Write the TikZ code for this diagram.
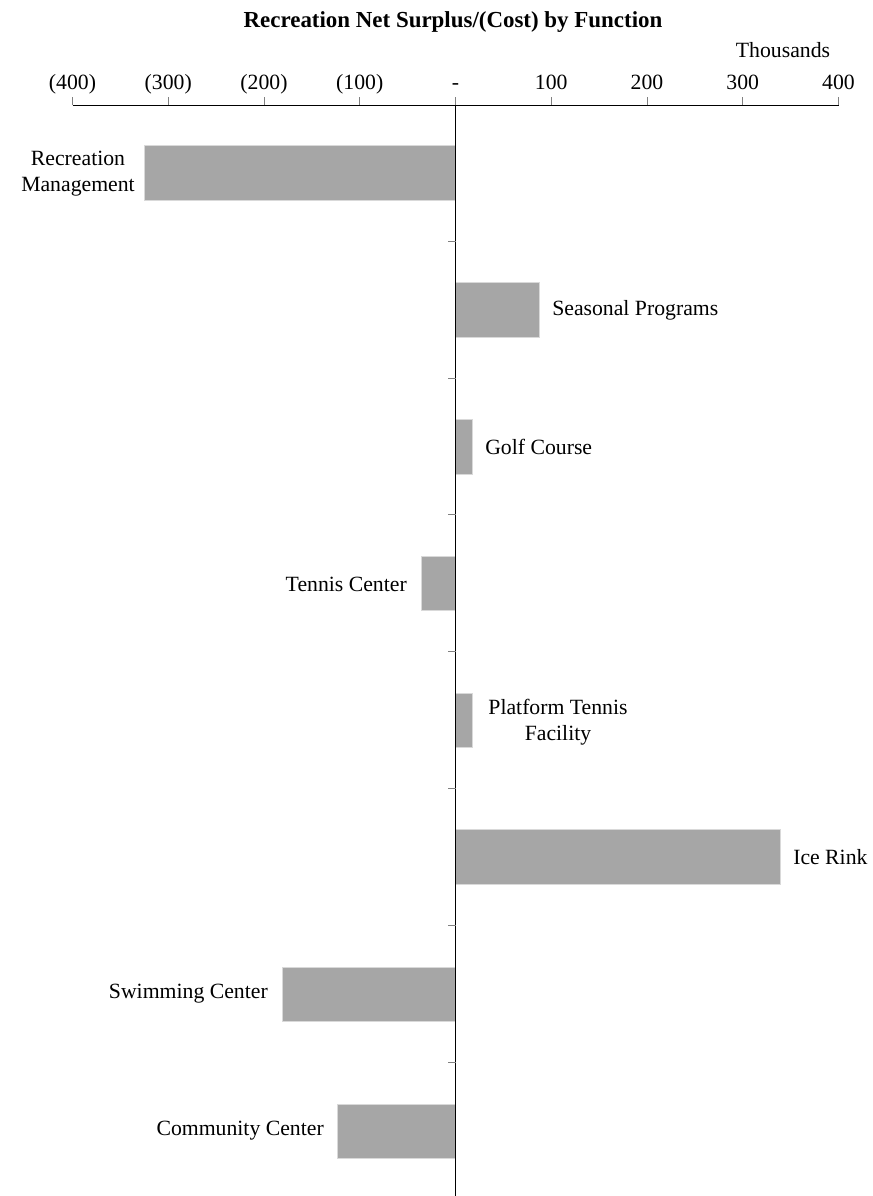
\documentclass[tikz,border=0pt]{standalone}
\usepackage{fontspec}
\setmainfont{Liberation Serif}
\usepackage{xcolor}

\begin{document}
\begin{tikzpicture}[x=0.75pt,y=0.75pt,yscale=-1,xscale=1,
  barfill/.style={fill={rgb, 255:red, 166; green, 166; blue, 166 },draw={rgb, 255:red, 217; green, 217; blue, 217 },line width=0.4pt},
  ticklbl/.style={inner sep=0.75pt,font=\fontsize{16.3}{19.5}\selectfont},
  axlbl/.style={ticklbl,anchor=base},
  smalltick/.style={draw={rgb, 255:red, 128; green, 128; blue, 128 },line width=0.6pt}]
\useasboundingbox (0,0) rectangle (872,1196);

%Shape: Rectangle [id:barRecMgmt]
\draw  [barfill] (144,145) -- (455.5,145) -- (455.5,200) -- (144,200) -- cycle ;
%Shape: Rectangle [id:barSeasonal]
\draw  [barfill] (455.5,282) -- (539,282) -- (539,337) -- (455.5,337) -- cycle ;
%Shape: Rectangle [id:barGolf]
\draw  [barfill] (455.5,419) -- (472,419) -- (472,474) -- (455.5,474) -- cycle ;
%Shape: Rectangle [id:barTennis]
\draw  [barfill] (421,556) -- (455.5,556) -- (455.5,610) -- (421,610) -- cycle ;
%Shape: Rectangle [id:barPlatform]
\draw  [barfill] (455.5,693) -- (472,693) -- (472,747) -- (455.5,747) -- cycle ;
%Shape: Rectangle [id:barIceRink]
\draw  [barfill] (455.5,829) -- (780,829) -- (780,884) -- (455.5,884) -- cycle ;
%Shape: Rectangle [id:barSwimming]
\draw  [barfill] (282,967) -- (455.5,967) -- (455.5,1021) -- (282,1021) -- cycle ;
%Shape: Rectangle [id:barCommunity]
\draw  [barfill] (337,1104) -- (455.5,1104) -- (455.5,1158) -- (337,1158) -- cycle ;

%Straight Lines [id:xAxis]
\draw    (72.5,105) -- (838.5,105) ;
\foreach \k in {0,...,8}
  \draw [smalltick] (72.5+95.75*\k,97) -- (72.5+95.75*\k,105) ;
%Straight Lines [id:yAxis]
\draw    (455.5,105) -- (455.5,1196) ;
\foreach \yy in {241,378,514,651,788,925,1062}
  \draw [smalltick] (448,\yy) -- (455.5,\yy) ;

% Text Node
\node (title) at (453,22) [ticklbl,font=\fontsize{17.2}{20}\selectfont\bfseries] {Recreation Net Surplus/(Cost) by Function};
% Text Node
\node (units) at (783,50) [ticklbl] {Thousands};
% Text Node
\node (lblm400) at (72.5,89) [axlbl] {(400)};
\node (lblm300) at (168.25,89) [axlbl] {(300)};
\node (lblm200) at (264,89) [axlbl] {(200)};
\node (lblm100) at (359.75,89) [axlbl] {(100)};
\node (lblzero) at (455.5,89) [axlbl] {-};
\node (lblp100) at (551.25,89) [axlbl] {100};
\node (lblp200) at (647,89) [axlbl] {200};
\node (lblp300) at (742.75,89) [axlbl] {300};
\node (lblp400) at (838.5,89) [axlbl] {400};

% Text Node
\node (recmgmt) at (78,174) [ticklbl,align=center] {Recreation\\Management};
% Text Node
\node (seasonal) at (551,310) [ticklbl,anchor=west] {Seasonal Programs};
% Text Node
\node (golf) at (484,447) [ticklbl,anchor=west] {Golf Course};
% Text Node
\node (tennis) at (408,584) [ticklbl,anchor=east] {Tennis Center};
% Text Node
\node (platform) at (558,722) [ticklbl,align=center] {Platform Tennis\\Facility};
% Text Node
\node (icerink) at (792,857) [ticklbl,anchor=west] {Ice Rink};
% Text Node
\node (swimming) at (269,994) [ticklbl,anchor=east] {Swimming Center};
% Text Node
\node (community) at (325,1131) [ticklbl,anchor=east] {Community Center};

\end{tikzpicture}
\end{document}
